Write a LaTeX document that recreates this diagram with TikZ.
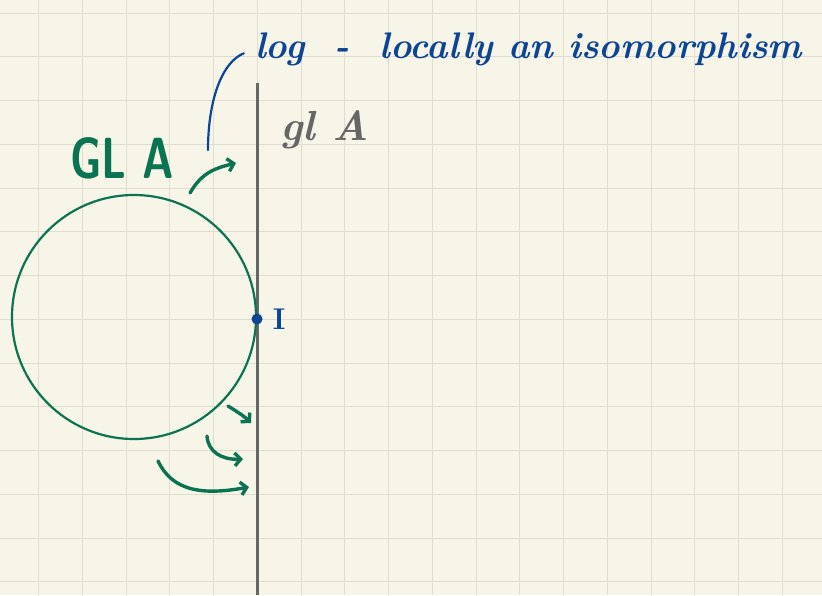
\documentclass[tikz,border=0pt]{standalone}
\usepackage{fontspec}
\usepackage{xcolor}
\usepackage{tikz}
\usetikzlibrary{arrows.meta,positioning,calc}

\definecolor{paper}{HTML}{F7F4E8}
\definecolor{gridgray}{HTML}{E0DDD0}
\definecolor{inkgreen}{HTML}{0A7352}
\definecolor{inkblue}{HTML}{0C4593}
\definecolor{inkgray}{HTML}{666666}

\begin{document}
\begin{tikzpicture}[
    x=1pt, y=-1pt,
    gridline/.style={draw=gridgray, line width=1pt},
    axis/.style={draw=inkgray, line width=3pt},
    group/.style={circle, draw=inkgreen, line width=2.2pt, minimum size=244pt, inner sep=0pt},
    flow/.style={-{Straight Barb[length=6pt,width=13pt]}, draw=inkgreen,
        line width=3.4pt, line cap=round},
    pointer/.style={draw=inkblue, line width=2.2pt, line cap=round},
    dot/.style={circle, fill=inkblue, minimum size=11pt, inner sep=0pt},
    note/.style={text=inkblue, font=\fontsize{37}{40}\selectfont\itshape, inner sep=0pt},
    greenlabel/.style={text=inkgreen, font=\fontsize{58}{60}\selectfont\sffamily\bfseries, inner sep=0pt},
    graylabel/.style={text=inkgray, font=\fontsize{42}{46}\selectfont\itshape, inner sep=0pt}
]
    % Paper and grid
    \fill[paper] (0,0) rectangle (822,595);
    \useasboundingbox (0,0) rectangle (822,595);
    \foreach \i in {0,...,17} {
        \draw[gridline] ({38.5+43.75*\i},0) -- ({38.5+43.75*\i},595);
    }
    \foreach \j in {0,...,13} {
        \draw[gridline] (0,{13+43.75*\j}) -- (822,{13+43.75*\j});
    }

    % Tangent space gl A
    \coordinate (axtop) at (257,83);
    \coordinate (axbot) at (257,595);
    \draw[axis] (axtop) -- (axbot);
    \node[graylabel, anchor=base west] (gla) at (280,140) {\bfseries gl A};

    % Group GL A
    \node[group] (GL) at (134,317) {};
    \node[greenlabel, anchor=base west] (GLlabel) at (70,178) {\scalebox{0.74}[1]{GL A}};

    % Identity
    \node[dot] (id) at (257,319) {};
    \node[text=inkblue, font=\fontsize{30}{30}\selectfont\rmfamily\bfseries,
        right=10pt of id, inner sep=0pt] (idlabel) {I};

    % log note
    \node[note, anchor=base west] (log) at (255,58)
        {\scalebox{0.98}[1]{\bfseries log \ - \ locally an isomorphism}};
    \coordinate (logtail) at (208,150);
    \draw[pointer, shorten >=12pt] (logtail) .. controls (208,100) and (222,62) .. (log.west);

    % Arrows from GL A to gl A
    \coordinate (a1s) at (190,193);
    \coordinate (a1e) at (236,163);
    \coordinate (a2s) at (228,406);
    \coordinate (a2e) at (251,423);
    \coordinate (a3s) at (207,436);
    \coordinate (a3e) at (243,459);
    \coordinate (a4s) at (158,461);
    \coordinate (a4e) at (249,487);
    \draw[flow] (a1s) .. controls (202,172) and (216,168) .. (a1e);
    \draw[flow] (a2s) .. controls (236,411) and (244,416) .. (a2e);
    \draw[flow] (a3s) .. controls (208,452) and (222,460) .. (a3e);
    \draw[flow] (a4s) .. controls (172,490) and (200,496) .. (a4e);
\end{tikzpicture}
\end{document}
